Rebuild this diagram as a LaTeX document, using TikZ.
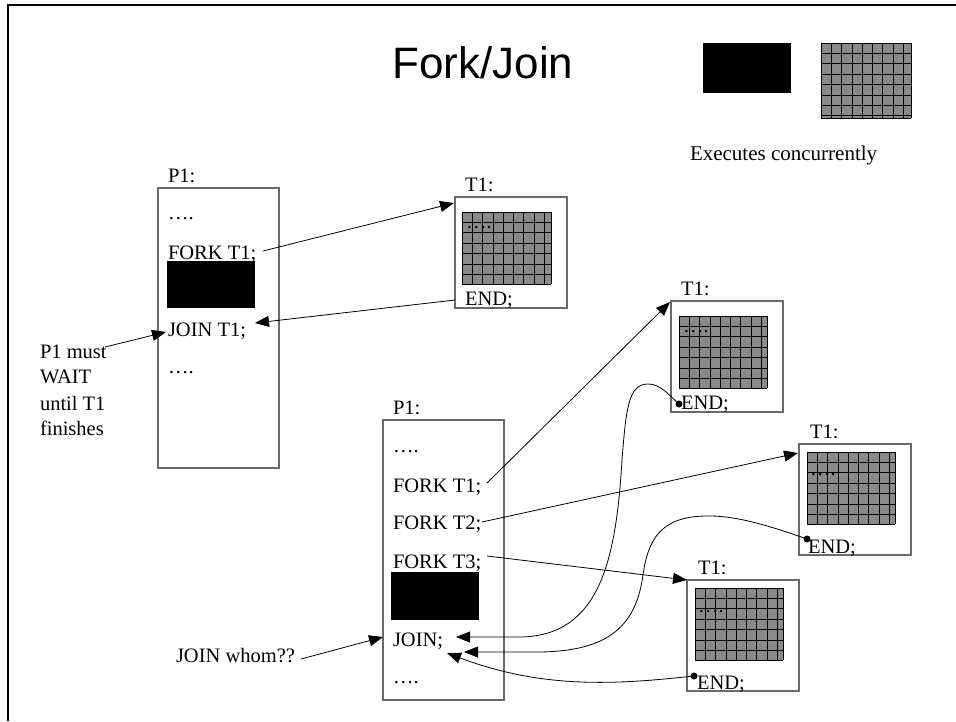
\documentclass[tikz,border=0pt]{standalone}
\usepackage{fontspec}
\setmainfont{Liberation Serif}
\newfontfamily\titlefont{Liberation Sans}
\usetikzlibrary{arrows.meta}
\definecolor{boxgray}{RGB}{105,105,105}
\definecolor{gridgray}{RGB}{138,138,138}
\tikzset{
  txt/.style={font=\fontsize{20.5}{24}\selectfont, inner sep=0pt, outer sep=0pt, anchor=base west},
  pbox/.style={draw=boxgray, line width=1.3pt, inner sep=0pt, outer sep=0pt, anchor=north west, minimum width=121pt, minimum height=280pt},
  tbox/.style={draw=boxgray, line width=1.3pt, inner sep=0pt, outer sep=0pt, anchor=north west, minimum width=112pt, minimum height=111pt},
  gridline/.style={draw=black, line width=0.8pt},
  arr/.style={line width=0.8pt, -{Triangle[length=14pt,width=11pt]}},
  dotc/.style={fill=black}
}
\newcommand\hatchgrid[4]{%
  \fill[gridgray] (#1,#2) rectangle (#3,#4);
  \begin{scope}
    \clip (#1,#2) rectangle (#3,#4);
    \foreach \k in {0,...,9} {\draw[gridline] ({#1+\k*10.3},#2) -- ({#1+\k*10.3},#4);}
    \foreach \k in {0,...,7} {\draw[gridline] (#1,{#2+\k*10.4}) -- (#3,{#2+\k*10.4});}
  \end{scope}
  \draw[gridline] (#1,#4) -- (#3,#4);
  \draw[gridline] (#3,#2) -- (#3,#4);
}
\begin{document}
\begin{tikzpicture}[x=1pt,y=-1pt]
\useasboundingbox (0,0) rectangle (956,721);
% frame
\draw[line width=2.5pt] (8,721) -- (8,5) -- (956,5);
% title and legend
\node[inner sep=0pt, font=\titlefont\fontsize{44}{50}\selectfont] (title) at (483,63) {Fork/Join};
\fill[black] (703,43) rectangle (791,93);
\hatchgrid{821}{43}{911}{118}
\node[txt, font=\fontsize{21}{24}\selectfont] (exec) at (690,160) {Executes concurrently};

% ---------- first P1 ----------
\node[pbox] (pA) at (158,188) {};
\node[txt] (pAl) at (168,182) {P1:};
\node[txt] (pAd1) at (168,219) {….};
\node[txt] (pAf) at (168,259) {FORK T1;};
\fill[black] (167,261) rectangle (255,308);
\node[txt] (pAj) at (168,336) {JOIN T1;};
\node[txt] (pAd2) at (168,373) {….};

% first T1
\node[tbox] (tA) at (455,197) {};
\node[txt] (tAl) at (465,191) {T1:};
\hatchgrid{462}{212}{551}{284}
\node[txt] (tAd) at (466,228) {….};
\node[txt] (tAe) at (465,305) {END;};

% wait note
\node[txt] (w1) at (40,358) {P1 must};
\node[txt] (w2) at (40,383) {WAIT};
\node[txt] (w3) at (40,410) {until T1};
\node[txt] (w4) at (40,435) {finishes};

\coordinate (aFs) at (263,251);
\coordinate (aFe) at (454,203);
\coordinate (aJs) at (455,300);
\coordinate (aJe) at (255,323);
\coordinate (aWs) at (105,347);
\coordinate (aWe) at (166,332);
\draw[arr] (aFs) -- (aFe);
\draw[arr] (aJs) -- (aJe);
\draw[arr] (aWs) -- (aWe);

% ---------- second P1 ----------
\node[pbox] (pB) at (383,420) {};
\node[txt] (pBl) at (393,414) {P1:};
\node[txt] (pBd1) at (393,452) {….};
\node[txt] (pBf1) at (393,492) {FORK T1;};
\node[txt] (pBf2) at (393,529) {FORK T2;};
\node[txt] (pBf3) at (393,568) {FORK T3;};
\fill[black] (391,572) rectangle (479,620);
\node[txt] (pBj) at (393,646) {JOIN;};
\node[txt] (pBd2) at (393,683) {….};

\node[txt] (jw) at (176,662) {JOIN whom??};

% T boxes
\node[tbox] (tB) at (671,301) {};
\node[txt] (tBl) at (681,295) {T1:};
\hatchgrid{679}{316}{767}{388}
\node[txt] (tBd) at (683,332) {….};
\node[txt] (tBe) at (681,409) {END;};

\node[tbox] (tC) at (799,444) {};
\node[txt] (tCl) at (810,438) {T1:};
\hatchgrid{807}{452}{895}{524}
\node[txt] (tCd) at (810,475) {….};
\node[txt] (tCe) at (808,553) {END;};

\node[tbox] (tD) at (687,580) {};
\node[txt] (tDl) at (698,574) {T1:};
\hatchgrid{695}{588}{783}{660}
\node[txt] (tDd) at (698,612) {….};
\node[txt] (tDe) at (697,689) {END;};

% fork arrows
\coordinate (b1s) at (487,483);
\coordinate (b1e) at (670,302);
\coordinate (b2s) at (482,522);
\coordinate (b2e) at (798,453);
\coordinate (b3s) at (487,556);
\coordinate (b3e) at (687,580);
\draw[arr] (b1s) -- (b1e);
\draw[arr] (b2s) -- (b2e);
\draw[arr] (b3s) -- (b3e);

% join curves
\coordinate (c1s) at (679,404);
\coordinate (c1e) at (456,637);
\coordinate (c2s) at (807,539);
\coordinate (c2e) at (464,652);
\coordinate (c3s) at (694,676);
\coordinate (c3e) at (447,653);
\fill[dotc] (c1s) circle (3.5pt);
\fill[dotc] (c2s) circle (3.5pt);
\fill[dotc] (c3s) circle (3.5pt);
\draw[arr] (c1s) .. controls (668,394) and (660,384) .. (648,384)
  .. controls (628,384) and (626,410) .. (622,460)
  .. controls (616,560) and (600,636) .. (520,637) -- (c1e);
\draw[arr] (c2s) .. controls (770,526) and (735,515) .. (705,516)
  .. controls (660,517) and (648,540) .. (643,575)
  .. controls (636,625) and (610,651) .. (540,652) -- (c2e);
\draw[arr] (c3s) .. controls (620,684) and (545,690) .. (c3e);

\coordinate (jws) at (301,659);
\coordinate (jwe) at (383,637);
\draw[arr] (jws) -- (jwe);
\end{tikzpicture}
\end{document}
